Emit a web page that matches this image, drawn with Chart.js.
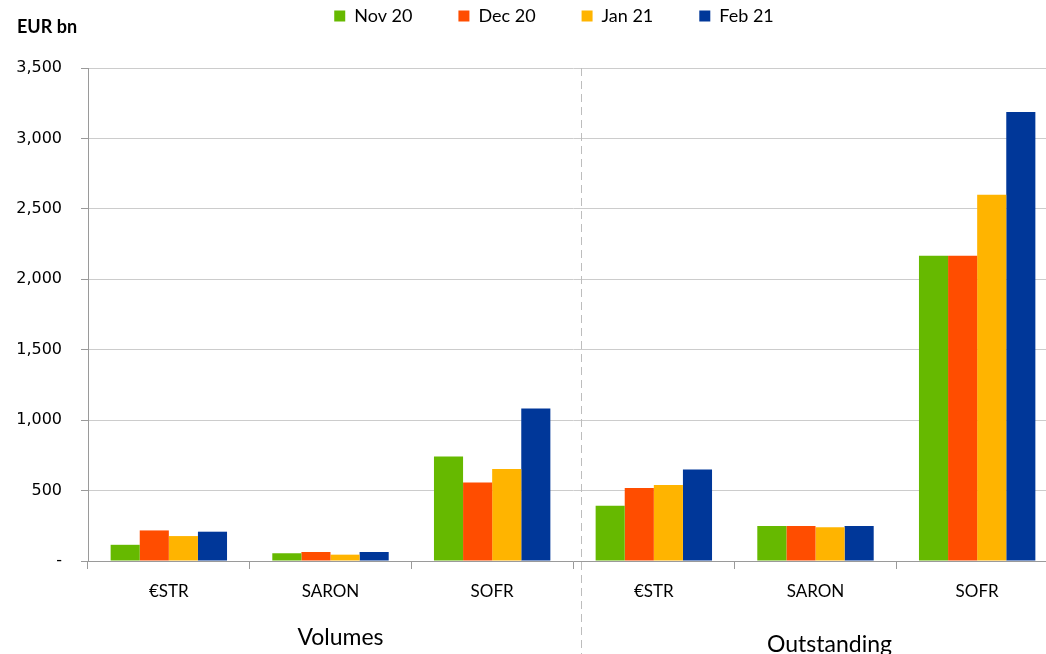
<!DOCTYPE html>
<html><head><meta charset="utf-8">
<script src="https://cdn.jsdelivr.net/npm/chart.js@4"></script>
<style>
html,body{margin:0;padding:0;background:#fff;overflow:hidden}
#wrap{width:1046px;height:654px;overflow:hidden;position:relative}
canvas{display:block}
</style>
</head><body>
<div id="wrap"><canvas id="c" width="1062" height="654" style="width:1062px;height:654px"></canvas></div>
<script>
const categories = ['€STR', 'SARON', 'SOFR', '€STR', 'SARON', 'SOFR'];
const groupNames = ['Volumes', 'Outstanding'];
const seriesNames = ['Nov 20', 'Dec 20', 'Jan 21', 'Feb 21'];
const nov20 = [115, 55, 742, 392, 248, 2167];
const dec20 = [217, 64, 558, 518, 248, 2167];
const jan21 = [177, 45, 653, 539, 239, 2600];
const feb21 = [208, 64, 1083, 650, 248, 3187];
const yTickValues = [0, 500, 1000, 1500, 2000, 2500, 3000, 3500];
const unitLabel = 'EUR bn';

const colors = ['#66b900', '#ff4d00', '#ffb400', '#003799'];
const seriesData = [nov20, dec20, jan21, feb21];

const extras = {
  id: 'extras',
  afterLayout(chart) {
    if (chart.legend) { chart.legend.left += 50; }
  },
  afterDraw(chart) {
    const ctx = chart.ctx;
    const x = chart.scales.x;
    const area = chart.chartArea;
    const sepX = (x.getPixelForValue(2) + x.getPixelForValue(3)) / 2 + 8;
    ctx.save();
    ctx.strokeStyle = '#bdbdbd';
    ctx.lineWidth = 1;
    ctx.setLineDash([8, 5]);
    ctx.beginPath();
    ctx.moveTo(sepX + 0.5, area.top);
    ctx.lineTo(sepX + 0.5, chart.height);
    ctx.stroke();
    ctx.setLineDash([]);
    ctx.fillStyle = '#000';
    ctx.font = '23px Lato';
    ctx.textAlign = 'center';
    ctx.textBaseline = 'middle';
    const g1 = (x.getPixelForValue(0) + x.getPixelForValue(2)) / 2 + 10;
    const g2 = (x.getPixelForValue(3) + x.getPixelForValue(5)) / 2 + 14;
    ctx.fillText(groupNames[0], g1, 638);
    ctx.fillText(groupNames[1], g2, 645);
    ctx.font = 'bold 18px Lato';
    ctx.textAlign = 'left';
    ctx.fillText(unitLabel, 17, 27);
    ctx.restore();
  }
};

new Chart(document.getElementById('c'), {
  type: 'bar',
  data: {
    labels: categories,
    datasets: seriesNames.map((n, i) => ({
      label: n,
      data: seriesData[i],
      backgroundColor: colors[i],
      borderWidth: 0,
      barPercentage: 1,
      categoryPercentage: 0.72
    }))
  },
  options: {
    responsive: false,
    animation: false,
    devicePixelRatio: 1,
    layout: { padding: { top: -39, right: 4, left: 0, bottom: 0 } },
    plugins: {
      legend: {
        position: 'top',
        labels: {
          boxWidth: 11, boxHeight: 11, padding: 46,
          color: '#000',
          font: { family: 'Lato', size: 18 }
        }
      },
      title: {
        display: true, text: '', weight: 500,
        font: { size: 12 },
        padding: { top: 0, bottom: 18.6 }
      },
      tooltip: { enabled: false }
    },
    scales: {
      x: {
        afterFit(s) { s.height = 93; },
        grid: { drawOnChartArea: false, drawTicks: true, tickLength: 8, color: '#9a9a9a' },
        border: { color: '#9a9a9a' },
        ticks: { color: '#000', padding: 12, font: { family: 'Lato', size: 17 } }
      },
      y: {
        min: 0, max: 3500,
        afterFit(s) { s.width = 88; },
        afterBuildTicks(s) { s.ticks = yTickValues.map(v => ({ value: v })); },
        grid: { color: '#cccccc', tickLength: 7, tickColor: '#9a9a9a' },
        border: { color: '#9a9a9a' },
        ticks: {
          color: '#000', padding: 19,
          font: { family: 'DejaVu Sans', size: 16 },
          callback: v => v === 0 ? '-' : v.toLocaleString('en-US')
        }
      }
    }
  },
  plugins: [extras]
});
</script>
</body></html>
